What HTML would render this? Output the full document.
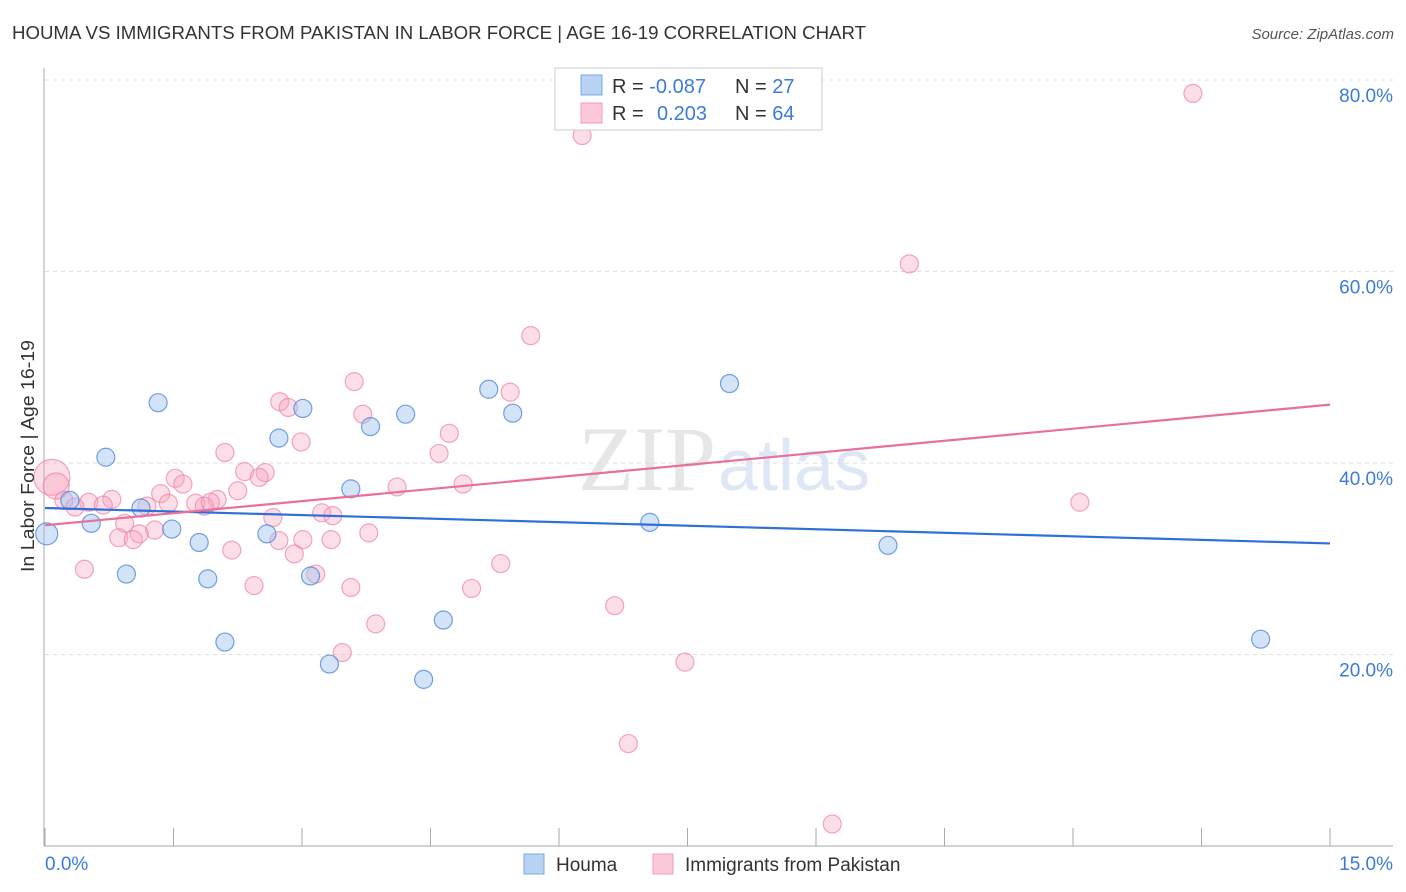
<!DOCTYPE html>
<html><head><meta charset="utf-8">
<style>
body{margin:0;background:#fff;font-family:"Liberation Sans",sans-serif;}
svg{display:block}
</style></head>
<body>
<svg id="chart" width="1406" height="892">
<text x="12" y="39" font-size="18" fill="#333" textLength="854" lengthAdjust="spacingAndGlyphs">HOUMA VS IMMIGRANTS FROM PAKISTAN IN LABOR FORCE | AGE 16-19 CORRELATION CHART</text>
<text x="1394" y="39" font-size="15" fill="#555" font-style="italic" text-anchor="end">Source: ZipAtlas.com</text>
<text x="716" y="490" font-size="92" fill="#e6e6e6" text-anchor="end" font-family="Liberation Serif,serif">ZIP</text>
<text x="718" y="490" font-size="72" fill="#dde7f5">atlas</text>
<g id="grid"></g>
<g id="axes"></g>
<g id="points"></g>
<g id="trends"></g>
<text x="34" y="456" font-size="18" fill="#333" text-anchor="middle" textLength="232" lengthAdjust="spacingAndGlyphs" transform="rotate(-90 34 456)">In Labor Force | Age 16-19</text>
<g>
<rect x="555" y="68" width="267" height="62" fill="#fff" stroke="#ccc"/>
<rect x="581" y="75" width="21" height="20" fill="#b9d3f5" stroke="#7aa7e6"/>
<rect x="581" y="103" width="21" height="20" fill="#fbc9d8" stroke="#f09bb5"/>
<text x="612" y="93" font-size="20" fill="#333">R = <tspan fill="#3d7bd9">-0.087</tspan><tspan x="735">N = </tspan><tspan fill="#3d7bd9">27</tspan></text>
<text x="612" y="120" font-size="20" fill="#333">R = <tspan x="657" fill="#3d7bd9">0.203</tspan><tspan x="735">N = </tspan><tspan fill="#3d7bd9">64</tspan></text>
</g>
<g>
<rect x="524" y="854" width="20" height="20" fill="#b9d3f5" stroke="#7aa7e6"/>
<text x="556" y="871" font-size="19" fill="#333">Houma</text>
<rect x="653" y="854" width="20" height="20" fill="#fbc9d8" stroke="#f09bb5"/>
<text x="685" y="871" font-size="19" fill="#333">Immigrants from Pakistan</text>
</g>
</svg>
<script>
const xTicks=[0,1.5,3,4.5,6,7.5,9,10.5,12,13.5,15];
const yTicks=[20,40,60,80];
const yTickLabels=["20.0%","40.0%","60.0%","80.0%"];
const houmaX=[0.02,0.29,0.54,0.71,0.95,1.12,1.32,1.48,1.80,1.90,2.10,2.59,2.73,3.01,3.10,3.32,3.57,3.80,4.21,4.42,4.65,5.18,5.46,7.06,7.99,9.84,14.19];
const houmaY=[32.6,36.1,33.7,40.6,28.4,35.3,46.3,33.1,31.7,27.9,21.3,32.6,42.6,45.7,28.2,19.0,37.3,43.8,45.1,17.4,23.6,47.7,45.2,33.8,48.3,31.4,21.6];
const pakX=[13.40,6.27,10.09,5.67,3.61,5.43,2.74,2.84,3.71,4.72,2.99,4.60,2.10,2.33,2.57,2.50,1.52,4.11,4.88,1.61,2.25,1.35,2.01,0.78,0.51,0.68,0.22,0.35,1.19,1.44,1.76,1.86,1.93,12.08,3.23,3.36,2.66,0.93,1.28,1.10,0.86,1.03,3.78,2.73,3.01,3.34,2.18,2.91,5.32,0.46,3.16,2.44,3.57,4.98,6.65,3.86,3.47,7.47,6.81,9.19,0.08,0.13];
const pakY=[78.6,74.2,60.8,53.3,48.5,47.4,46.4,45.8,45.1,43.1,42.2,41.0,41.1,39.1,39.0,38.5,38.4,37.5,37.8,37.8,37.1,36.8,36.2,36.2,35.9,35.6,36.1,35.4,35.5,35.8,35.8,35.5,35.9,35.9,34.8,34.5,34.3,33.7,33.0,32.6,32.2,32.0,32.7,31.9,32.0,32.0,30.9,30.5,29.5,28.9,28.4,27.2,27.0,26.9,25.1,23.2,20.2,19.2,10.7,2.3,38.5,37.6];
const pakR=[9,9,9,9,9,9,9,9,9,9,9,9,9,9,9,9,9,9,9,9,9,9,9,9,9,9,9,9,9,9,9,9,9,9,9,9,9,9,9,9,9,9,9,9,9,9,9,9,9,9,9,9,9,9,9,9,9,9,9,9,18,13];
const houmaTrend=[35.3,31.6];
const pakTrend=[33.5,46.1];
const NS="http://www.w3.org/2000/svg";
const X=v=>45+v/15*1285;
const Y=v=>846-v/20*191.5;
function mk(tag,at,parent){const e=document.createElementNS(NS,tag);for(const k in at)e.setAttribute(k,at[k]);parent.appendChild(e);return e;}
const grid=document.getElementById('grid'),axes=document.getElementById('axes'),pts=document.getElementById('points'),tr=document.getElementById('trends');
yTicks.forEach((t,i)=>{
 const l=mk('line',{x1:45,x2:1393,y1:Y(t),y2:Y(t),stroke:'#ddd','stroke-dasharray':'4,4'},grid);
 
 
 const tx=mk('text',{x:1393,y:Y(t)+22,'font-size':19,fill:'#3d7bd9','text-anchor':'end'},grid);
 tx.textContent=yTickLabels[i];
 
 
});
const ya=mk('line',{x1:44,x2:44,y1:68,y2:846,stroke:'#aaa'},axes);


const xa=mk('line',{x1:44,x2:1393,y1:846,y2:846,stroke:'#aaa'},axes);


xTicks.forEach(t=>{
 const l=mk('line',{x1:X(t),x2:X(t),y1:828,y2:846,stroke:'#aaa'},axes);
 
 
});
const xl0=mk('text',{x:45,y:870,'font-size':19,fill:'#3d7bd9'},axes);xl0.textContent='0.0%';


const xl1=mk('text',{x:1393,y:870,'font-size':19,fill:'#3d7bd9','text-anchor':'end'},axes);xl1.textContent='15.0%';


pakX.forEach((v,i)=>{
 const c=mk('circle',{cx:X(v),cy:Y(pakY[i]),r:pakR[i],fill:'rgba(246,160,188,0.35)',stroke:'rgba(236,130,165,0.7)','stroke-width':1.2},pts);
 
 
});
houmaX.forEach((v,i)=>{
 const c=mk('circle',{cx:X(v),cy:Y(houmaY[i]),r:i==0?11:9,fill:'rgba(160,195,240,0.45)',stroke:'rgba(70,130,215,0.75)','stroke-width':1.2},pts);
 
 
});
const hb=mk('line',{x1:X(0),x2:X(15),y1:Y(houmaTrend[0]),y2:Y(houmaTrend[1]),stroke:'#2f6fd6','stroke-width':2.2},tr);


const pb=mk('line',{x1:X(0),x2:X(15),y1:Y(pakTrend[0]),y2:Y(pakTrend[1]),stroke:'#e8709a','stroke-width':2.2},tr);


</script>
</body></html>
